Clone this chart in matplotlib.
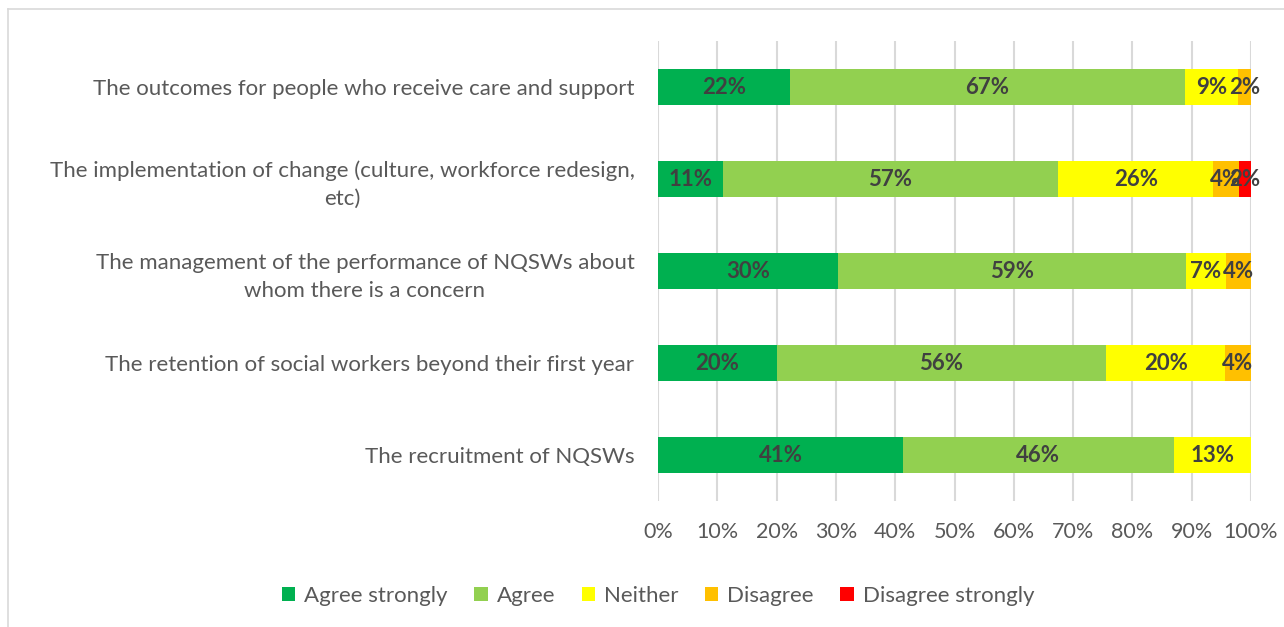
import matplotlib
matplotlib.use("Agg")
import matplotlib.pyplot as plt
import numpy as np

plt.rcParams['font.family'] = ['Lato', 'DejaVu Sans']

categories = [
    "The outcomes for people who receive care and support",
    "The implementation of change (culture, workforce redesign,\netc)",
    "The management of the performance of NQSWs about\nwhom there is a concern",
    "The retention of social workers beyond their first year",
    "The recruitment of NQSWs",
]
series_names = ["Agree strongly", "Agree", "Neither", "Disagree", "Disagree strongly"]
agree_strongly = [22.2, 10.9, 30.4, 20.0, 41.3]
agree = [66.7, 56.6, 58.7, 55.6, 45.7]
neither = [8.9, 26.1, 6.6, 20.0, 13.0]
disagree = [2.2, 4.3, 4.3, 4.4, 0.0]
disagree_strongly = [0.0, 2.2, 0.0, 0.0, 0.0]
colors = ["#00B050", "#92D050", "#FFFF00", "#FFC000", "#FF0000"]
tick_values = [0, 10, 20, 30, 40, 50, 60, 70, 80, 90, 100]
tick_labels = [f"{v}%" for v in tick_values]

series = [agree_strongly, agree, neither, disagree, disagree_strongly]

fig = plt.figure(figsize=(12.84, 6.27), dpi=100)
ax = fig.add_axes([658 / 1284, 1 - 501 / 627, (1251 - 658) / 1284, (501 - 41) / 627])

y = np.arange(len(categories))
left = np.zeros(len(categories))
for name, vals, col in zip(series_names, series, colors):
    vals = np.array(vals, dtype=float)
    ax.barh(y, vals, left=left, height=0.4, color=col, label=name, zorder=3)
    for yi, (l, v) in enumerate(zip(left, vals)):
        if v > 0:
            ax.text(l + v / 2, yi, f"{v:.0f}%", ha="center", va="center",
                    fontsize=16, fontweight="bold", color="#404040", zorder=4)
    left += vals

ax.set_xlim(0, 100)
ax.set_ylim(len(categories) - 0.5, -0.5)
ax.set_xticks(tick_values)
ax.set_xticklabels(tick_labels)
ax.set_yticks(y)
ax.set_yticklabels(categories, ha="right", multialignment="center", linespacing=1.5)
ax.tick_params(axis="x", length=0, pad=15, labelsize=15.5, labelcolor="#595959")
ax.tick_params(axis="y", length=0, pad=17, labelsize=16, labelcolor="#595959")

ax.grid(axis="x", color="#D9D9D9", linewidth=1.5, zorder=0)
for s in ax.spines.values():
    s.set_visible(False)

handles, labels = ax.get_legend_handles_labels()
fig.legend(handles, labels, loc="center", bbox_to_anchor=(658 / 1284, 1 - 596 / 627),
           ncol=5, frameon=False, fontsize=16, labelcolor="#595959",
           handlelength=0.6, handleheight=0.6, handletextpad=0.4, columnspacing=1.2)

# outer chart frame (top and left edges)
fig.add_artist(plt.Line2D([8 / 1284, 1], [1 - 9 / 627, 1 - 9 / 627],
                          transform=fig.transFigure, color="#D9D9D9", linewidth=1.2))
fig.add_artist(plt.Line2D([8 / 1284, 8 / 1284], [0, 1 - 9 / 627],
                          transform=fig.transFigure, color="#D9D9D9", linewidth=1.2))

fig.savefig("out.png", dpi=100)
